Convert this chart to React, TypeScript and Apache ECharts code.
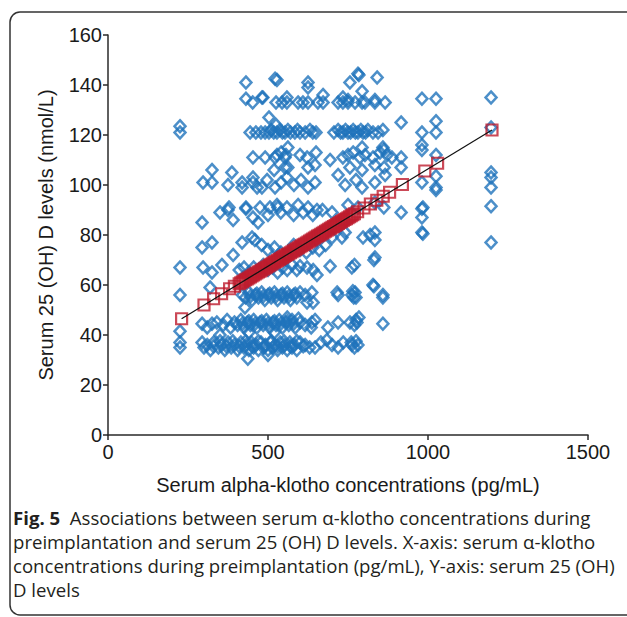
import React, { useEffect, useRef } from "react";
import * as echarts from "echarts";

// Blue diamonds: [alpha-klotho (pg/mL), 25(OH)D (nmol/L)]
const band35: number[][] = [
  [225, 35], [225, 37], [294, 37], [300, 35], [310, 36], [320, 34], [330, 37], [345, 35], [355, 36], [365, 34],
  [375, 37], [385, 35], [395, 36], [405, 34], [415, 37], [425, 35], [432, 36], [440, 34], [448, 37], [455, 35],
  [462, 36], [470, 34], [478, 37], [485, 35], [492, 36], [500, 34], [508, 37], [515, 35], [522, 36], [530, 34],
  [538, 37], [545, 35], [552, 36], [560, 34], [568, 37], [575, 35], [582, 36], [590, 34], [600, 37], [616, 36],
  [630, 35], [647, 35], [665, 37], [684, 38], [700, 36], [719, 35], [735, 37], [762, 36], [770, 35], [781, 36],
  [437, 30.5], [500, 32],
];
const band35Core: number[][] = [
  [330, 35.5], [350, 37.5], [370, 35.5], [390, 37.5], [410, 35.5], [430, 37.5], [450, 35.5], [470, 37.5],
  [490, 35.5], [510, 37.5], [530, 35.5], [550, 37.5], [570, 35.5], [590, 37.5], [610, 35.5], [760, 37], [775, 37.5],
];
const band44: number[][] = [
  [225, 41.5], [294, 44.5], [310, 43], [325, 44.5], [340, 45], [350, 40], [360, 44], [372, 46], [383, 43], [395, 45],
  [405, 44], [415, 46], [425, 43], [435, 45], [445, 44], [455, 46], [465, 43], [475, 45], [485, 44], [495, 46],
  [505, 43], [515, 45], [525, 44], [535, 46], [545, 43], [555, 45], [565, 44], [575, 46], [585, 43], [600, 45],
  [616, 44], [637, 45], [647, 46], [687, 43], [719, 45], [756, 45], [778, 45], [784, 47], [859, 44.5], [440, 41],
  [520, 41], [560, 47],
];
const band44Core: number[][] = [
  [420, 44.5], [440, 45.5], [460, 44.5], [480, 45.5], [500, 44.5], [520, 45.5], [540, 44.5], [560, 45.5],
  [580, 44.5], [595, 46.5], [635, 43], [770, 44], [775, 46],
];
const band55: number[][] = [
  [225, 56], [319, 59], [428, 51], [420, 56], [430, 55], [440, 57], [450, 54], [460, 56], [470, 55], [480, 57],
  [490, 54], [500, 56], [510, 55], [520, 57], [530, 54], [540, 56], [550, 55], [560, 57], [570, 54], [580, 56],
  [590, 55], [600, 57], [616, 56], [622, 53], [637, 57], [641, 53], [716, 57], [719, 56], [762, 56], [772, 57],
  [775, 55], [828, 60], [831, 59.5], [859, 56], [859, 55],
];
const band55Core: number[][] = [
  [445, 55.5], [465, 56.5], [485, 55.5], [505, 56.5], [525, 55.5], [545, 56.5], [565, 55.5], [585, 56.5],
  [765, 57.5], [768, 55],
];
const band66: number[][] = [
  [225, 67], [297, 67], [325, 65], [356, 68], [410, 66], [425, 67], [440, 65], [455, 67], [470, 66], [485, 68],
  [500, 66], [515, 67], [530, 65], [545, 67], [560, 66], [575, 68], [590, 66], [600, 67.5], [622, 67], [641, 66],
  [653, 64], [694, 67.5], [762, 67], [770, 68], [831, 70],
];
const band77: number[][] = [
  [294, 75], [325, 77], [391, 72], [419, 77], [450, 79], [459, 78], [480, 76], [500, 74], [520, 75], [540, 73],
  [560, 72], [580, 76], [600, 74], [620, 73], [640, 75], [660, 74], [680, 76], [700, 79], [731, 79], [741, 81],
  [797, 79], [819, 80], [834, 81], [834, 78], [834, 71], [981, 81], [984, 80.5], [1197, 77],
];
const band89: number[][] = [
  [294, 85], [350, 89], [375, 90], [391, 86], [431, 90.5], [453, 87], [469, 85], [378, 91], [431, 91], [475, 91],
  [506, 91], [531, 91], [528, 92], [559, 91], [594, 92], [625, 91], [653, 90], [500, 88], [540, 89], [580, 88],
  [610, 89], [640, 88], [670, 90], [700, 89], [750, 92], [781, 91], [834, 93], [862, 91], [916, 89], [981, 90.5],
  [981, 87], [984, 91], [1197, 91.5],
];
const band101: number[][] = [
  [297, 101], [325, 101], [325, 106], [387, 105], [375, 100], [419, 101], [419, 99], [453, 103], [453, 101], [466, 99],
  [481, 99], [497, 102], [519, 106], [522, 99], [541, 101], [559, 103], [581, 100], [603, 102], [625, 99], [647, 101],
  [719, 104], [741, 100], [775, 102], [794, 99], [834, 101], [866, 104], [916, 107], [981, 101], [1025, 103.5], [1025, 99],
  [1025, 98], [1197, 105], [1197, 103], [1197, 99],
];
const band111: number[][] = [
  [453, 111], [491, 111], [522, 111], [528, 112], [541, 113], [553, 111], [556, 112], [562, 115], [600, 112], [622, 111],
  [650, 113], [694, 110], [734, 111], [750, 112], [766, 113], [787, 111], [794, 115], [803, 112], [828, 111], [850, 113],
  [859, 115], [862, 114], [872, 112], [887, 111], [916, 111], [981, 116], [981, 114], [1025, 112], [553, 107], [562, 107],
  [625, 107], [647, 108], [756, 107], [794, 106], [834, 108], [863, 107],
];
const band122: number[][] = [
  [225, 123.5], [225, 121], [444, 121], [462, 121], [478, 121], [491, 121], [503, 121], [510, 122], [518, 121], [528, 121],
  [537, 122], [545, 121], [553, 121], [562, 122], [570, 121], [584, 121], [592, 122], [600, 121], [616, 121], [631, 122],
  [640, 121], [650, 121], [706, 121], [719, 122], [727, 121], [734, 121], [742, 122], [750, 121], [758, 121], [766, 122],
  [773, 121], [781, 121], [790, 122], [797, 121], [805, 121], [812, 122], [828, 121], [844, 121], [859, 122], [916, 125],
  [981, 121], [1025, 125.5], [1025, 121], [1197, 123], [503, 127], [525, 124],
];
const band133: number[][] = [
  [431, 134.5], [452, 133], [481, 135], [484, 135], [525, 133], [544, 133], [559, 133], [559, 135], [594, 133], [609, 133],
  [625, 133], [656, 133], [672, 133], [672, 136], [719, 133], [734, 133], [734, 135], [750, 133], [750, 134], [772, 133],
  [794, 133], [794, 137.5], [803, 133], [834, 133], [834, 134], [866, 133], [981, 134.5], [1025, 134.5], [1197, 135],
];
const band142: number[][] = [
  [431, 141], [522, 142.5], [528, 142], [625, 141], [625, 139], [756, 141], [781, 144.5], [784, 144], [841, 143],
];

// Red squares: fitted values
const fittedPoints: number[][] = [
  [230, 46.5], [300, 52], [330, 54.5], [355, 56.5], [380, 58.5], [395, 59.5],
  [410, 60.5], [415, 60.9], [420, 61.3], [425, 61.7], [430, 62.1], [435, 62.4], [440, 62.8], [445, 63.2],
  [450, 63.6], [455, 64.0], [460, 64.4], [465, 64.8], [470, 65.2], [475, 65.5], [480, 65.9], [485, 66.3],
  [490, 66.7], [495, 67.1], [500, 67.5], [505, 67.9], [510, 68.3], [515, 68.7], [520, 69.1], [525, 69.4],
  [530, 69.8], [535, 70.2], [540, 70.6], [545, 71.0], [550, 71.4], [555, 71.8], [560, 72.2], [565, 72.5],
  [570, 72.9], [575, 73.3], [580, 73.7], [585, 74.1], [590, 74.5], [595, 74.9], [600, 75.3], [605, 75.7],
  [610, 76.1], [615, 76.4], [620, 76.8], [625, 77.2], [630, 77.6], [635, 78.0], [640, 78.4], [645, 78.8],
  [650, 79.2], [655, 79.6], [660, 79.9], [665, 80.3], [670, 80.7], [675, 81.1], [680, 81.5], [685, 81.9],
  [690, 82.3], [695, 82.7], [700, 83.1], [705, 83.4], [710, 83.8], [715, 84.2], [720, 84.6], [725, 85.0],
  [730, 85.4], [735, 85.8], [740, 86.2], [745, 86.5], [750, 86.9], [755, 87.3], [760, 87.7], [765, 88.1],
  [770, 88.5], [780, 89.3], [800, 90.8], [820, 92.4], [840, 93.9], [860, 95.5], [880, 97.1], [920, 100.2],
  [990, 105.6], [1030, 108.7], [1200, 122.0],
];
const fitLine: number[][] = [[230, 46.5], [1200, 122.0]];

const yTicks = { min: 0, max: 160, interval: 20 };
const xTicks = { min: 0, max: 1500, interval: 500 };

const xName = "Serum alpha-klotho concentrations (pg/mL)";
const yName = "Serum 25 (OH) D levels (nmol/L)";
const captionFirst = "Associations between serum α-klotho concentrations during";
const captionLines = [
  "preimplantation and serum 25 (OH) D levels. X-axis: serum α-klotho",
  "concentrations during preimplantation (pg/mL), Y-axis: serum 25 (OH)",
  "D levels",
];

export default function App() {
  const ref = useRef<HTMLDivElement>(null);
  useEffect(() => {
    if (!ref.current) return;
    const chart = echarts.init(ref.current, null, { renderer: "svg" });
    const blue = [
      ...band35, ...band35Core, ...band44, ...band44Core, ...band55, ...band55Core, ...band66, ...band77, ...band89,
      ...band101, ...band111, ...band122, ...band133, ...band142,
    ];
    const axisFont = { fontFamily: "Liberation Sans", fontSize: 20, color: "#1a1a1a" };
    const capFont = "Open Sans";
    const capSize = 18.6;
    chart.setOption({
      animation: false,
      backgroundColor: "#fff",
      grid: { left: 108, top: 35, width: 480, height: 400, containLabel: false },
      xAxis: {
        type: "value",
        ...xTicks,
        name: xName,
        nameLocation: "middle",
        nameGap: 40,
        nameTextStyle: axisFont,
        axisLine: { show: true, onZero: false, lineStyle: { color: "#2a2a2a", width: 1.5 } },
        axisTick: { show: true, length: 5, lineStyle: { color: "#2a2a2a", width: 1.5 } },
        axisLabel: { ...axisFont, margin: 7, formatter: (v: number) => String(v) },
        splitLine: { show: false },
      },
      yAxis: {
        type: "value",
        ...yTicks,
        name: yName,
        nameLocation: "middle",
        nameGap: 52,
        nameTextStyle: axisFont,
        axisLine: { show: true, onZero: false, lineStyle: { color: "#2a2a2a", width: 1.5 } },
        axisTick: { show: true, length: 5, lineStyle: { color: "#2a2a2a", width: 1.5 } },
        axisLabel: { ...axisFont, margin: 6, formatter: (v: number) => String(v) },
        splitLine: { show: false },
      },
      series: [
        {
          type: "scatter",
          data: blue,
          symbol: "diamond",
          symbolSize: [11, 12],
          itemStyle: { color: "rgba(0,0,0,0)", borderColor: "#1f73bc", borderWidth: 2.5 },
          z: 2,
        },
        {
          type: "scatter",
          data: fittedPoints,
          symbol: "rect",
          symbolSize: 11,
          itemStyle: { color: "rgba(0,0,0,0)", borderColor: "#be1c2d", borderWidth: 2.2 },
          z: 3,
        },
        {
          type: "line",
          data: fitLine,
          symbol: "none",
          lineStyle: { color: "#111", width: 1.2 },
          z: 4,
        },
      ],
      graphic: [
        {
          type: "rect",
          shape: { x: 10, y: 12, width: 660, height: 603, r: 10 },
          style: { fill: "none", stroke: "#333", lineWidth: 1.5 },
          silent: true,
        },
        {
          type: "text",
          x: 13,
          y: 508,
          style: {
            text: "{b|Fig. 5}  " + captionFirst,
            fontFamily: capFont,
            fontSize: capSize,
            fill: "#231f20",
            rich: {
              b: { fontFamily: capFont, fontSize: capSize, fontWeight: "bold", fill: "#231f20" },
            },
          },
        },
        ...captionLines.map((t, i) => ({
          type: "text",
          x: 13,
          y: 532 + i * 24,
          style: { text: t, fontFamily: capFont, fontSize: capSize, fill: "#231f20" },
        })),
      ],
    });
    return () => chart.dispose();
  }, []);
  return (
    <div
      ref={ref}
      style={{ position: "fixed", left: 0, top: 0, width: 627, height: 617, background: "#fff" }}
    />
  );
}
